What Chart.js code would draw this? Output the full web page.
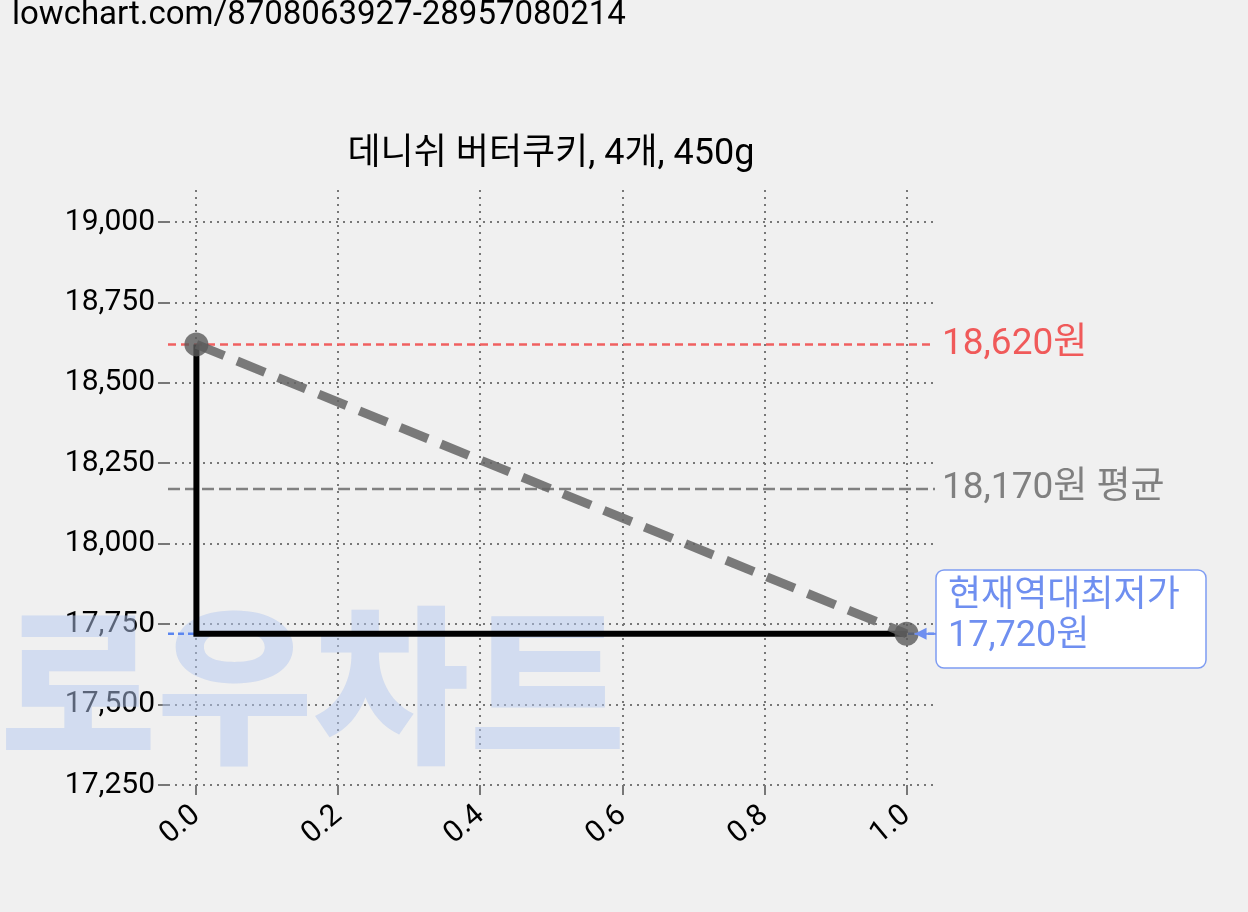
<!DOCTYPE html>
<html><head><meta charset="utf-8">
<script src="https://cdn.jsdelivr.net/npm/chart.js@4"></script>
<style>html,body{margin:0;background:#f0f0f0;}canvas{display:block}</style>
</head><body>
<div style="position:relative;width:1248px;height:912px"><canvas id="c" width="1248" height="912"></canvas></div>
<script>
const xValues = [0, 1];
const prices = [18620, 17720];
const stepX = [0, 0, 1];
const stepY = [18620, 17720, 17720];
const maxPrice = 18620, avgPrice = 18170, minPrice = 17720;
const xTicks = [0, 0.2, 0.4, 0.6, 0.8, 1.0];
const yTicks = [17250, 17500, 17750, 18000, 18250, 18500, 18750, 19000];
const title = '데니쉬 버터쿠키, 4개, 450g';
const urlText = 'lowchart.com/8708063927-28957080214';
const F = 'Roboto, "Noto Sans CJK KR", sans-serif';

const deco = {
  id:'deco',
  beforeDatasetsDraw(ch){
    const c=ch.ctx, y=ch.scales.y, a=ch.chartArea;
    c.save();
    c.fillStyle='rgba(180,200,240,0.5)';
    c.font='900 170px "Noto Sans CJK KR"';
    c.textBaseline='alphabetic';
    c.fillText('로우차트',0,750);
    const hl=(v,col,d)=>{c.strokeStyle=col;c.lineWidth=2.5;c.setLineDash(d);c.beginPath();c.moveTo(a.left,y.getPixelForValue(v));c.lineTo(a.right,y.getPixelForValue(v));c.stroke();};
    hl(maxPrice,'#f06060',[8,5]);
    hl(avgPrice,'#808080',[12,5]);
    hl(minPrice,'#5b86f0',[6,4]);
    c.restore();
  },
  afterDraw(ch){
    const c=ch.ctx, y=ch.scales.y, x=ch.scales.x;
    c.save();
    c.fillStyle='#000';c.font='33px '+F;c.textBaseline='middle';
    c.fillText(urlText,12,16);
    c.textAlign='center';c.font='36px '+F;
    c.fillText(title,551,155);
    c.textAlign='left';c.font='37px '+F;
    c.fillStyle='#f05a5a';c.fillText(maxPrice.toLocaleString('en-US')+'원',942,y.getPixelForValue(maxPrice));
    c.fillStyle='#808080';c.fillText(avgPrice.toLocaleString('en-US')+'원 평균',942,y.getPixelForValue(avgPrice));
    const yp=y.getPixelForValue(minPrice);
    c.fillStyle='#fff';c.strokeStyle='#7e9cf2';c.lineWidth=1.5;
    c.beginPath();c.roundRect(936,570,270,98,8);c.fill();c.stroke();
    c.fillStyle='#6f8ff0';c.font='36px '+F;
    c.fillText('현재역대최저가',948,597);
    c.fillText(minPrice.toLocaleString('en-US')+'원',948,637);
    const x1=x.getPixelForValue(1);
    c.strokeStyle='#6f8ff0';c.lineWidth=2;
    c.beginPath();c.moveTo(x1+8,yp);c.lineTo(936,yp);c.stroke();
    c.beginPath();c.moveTo(x1+8,yp);c.lineTo(x1+20,yp-6);c.lineTo(x1+20,yp+6);c.closePath();c.fillStyle='#6f8ff0';c.fill();
    c.restore();
  }
};

new Chart(document.getElementById('c'),{
  type:'scatter',
  data:{datasets:[
    {data:xValues.map((v,i)=>({x:v,y:prices[i]})),showLine:true,borderColor:'rgba(100,100,100,0.85)',borderWidth:9,borderDash:[30,14],pointRadius:12,pointBackgroundColor:'rgba(90,90,90,0.8)',pointBorderWidth:0},
    {data:stepX.map((v,i)=>({x:v,y:stepY[i]})),showLine:true,borderColor:'#000',borderWidth:6,pointRadius:0}
  ]},
  options:{responsive:false,animation:false,devicePixelRatio:1,
    layout:{padding:{left:0,top:190,right:313,bottom:0}},
    plugins:{legend:{display:false},tooltip:{enabled:false}},
    scales:{
      x:{type:'linear',min:-0.04,max:1.04,
        afterBuildTicks:s=>{s.ticks=xTicks.map(v=>({value:v}));},
        afterFit:s=>{s.height=127;},
        border:{display:false,dash:[2,5]},
        grid:{color:'#777',lineWidth:2,tickLength:10},
        ticks:{color:'#000',font:{size:30,family:F},maxRotation:40,minRotation:40,callback:v=>v.toFixed(1)}},
      y:{min:17250,max:19100,
        afterBuildTicks:s=>{s.ticks=yTicks.map(v=>({value:v}));},
        afterFit:s=>{s.width=168;},
        border:{display:false,dash:[2,5]},
        grid:{color:'#777',lineWidth:2,tickLength:10},
        ticks:{color:'#000',font:{size:30,family:F},callback:v=>v.toLocaleString('en-US')}}
    }
  },
  plugins:[deco]
});
</script></body></html>
